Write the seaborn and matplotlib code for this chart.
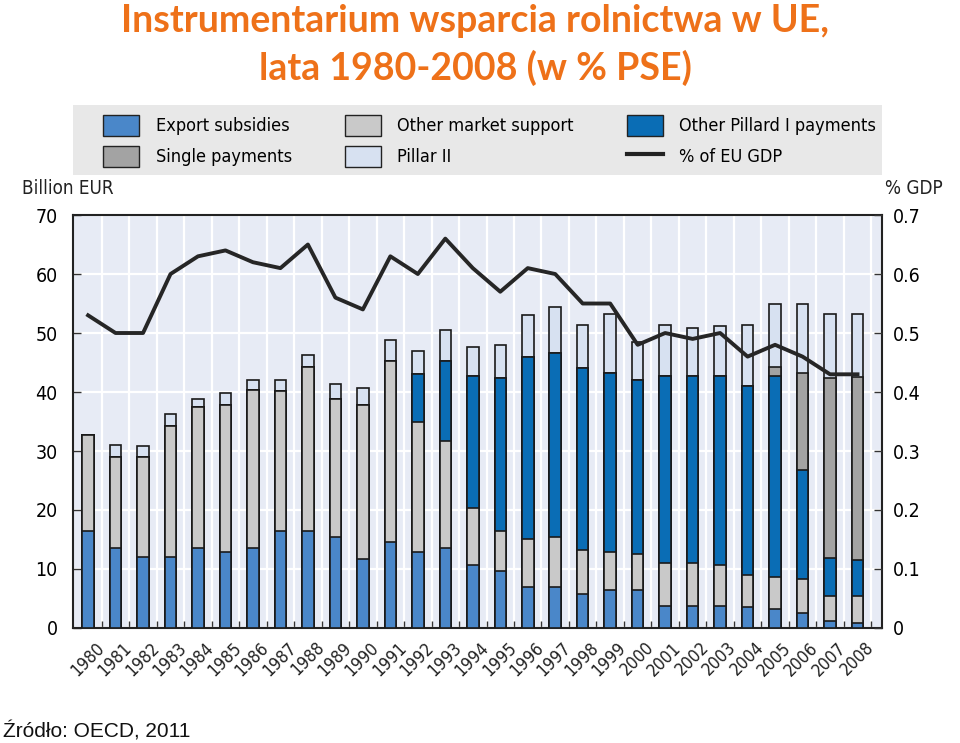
import numpy as np
import pandas as pd
import matplotlib
matplotlib.use("Agg")
import matplotlib.pyplot as plt
from matplotlib.patches import Patch, Rectangle
from matplotlib.lines import Line2D
import seaborn as sns

years = [str(y) for y in range(1980, 2009)]

export_subsidies = [16.4, 13.6, 12.0, 12.0, 13.6, 12.9, 13.6, 16.4, 16.4, 15.5,
                    11.7, 14.5, 12.9, 13.5, 10.6, 9.7, 7.0, 7.0, 5.8, 6.4,
                    6.4, 3.8, 3.8, 3.8, 3.5, 3.2, 2.5, 1.2, 0.8]
other_market = [16.3, 15.4, 17.0, 22.2, 23.9, 24.9, 26.7, 23.8, 27.8, 23.3,
                26.1, 30.7, 22.0, 18.2, 9.7, 6.7, 8.1, 8.4, 7.4, 6.4,
                6.1, 7.2, 7.2, 6.8, 5.5, 5.4, 5.8, 4.2, 4.6]
other_pillar1 = [0, 0, 0, 0, 0, 0, 0, 0, 0, 0,
                 0, 0, 8.1, 13.6, 22.4, 26.0, 30.9, 31.2, 30.8, 30.5,
                 29.5, 31.7, 31.7, 32.1, 32.1, 34.1, 18.5, 6.5, 6.2]
single_payments = [0, 0, 0, 0, 0, 0, 0, 0, 0, 0,
                   0, 0, 0, 0, 0, 0, 0, 0, 0, 0,
                   0, 0, 0, 0, 0, 1.6, 16.5, 30.4, 31.0]
pillar2 = [0, 2.0, 1.8, 2.1, 1.3, 2.0, 1.7, 1.8, 2.1, 2.6,
           2.9, 3.7, 3.9, 5.2, 4.9, 5.5, 7.1, 7.8, 7.4, 9.9,
           6.4, 8.7, 8.1, 8.5, 10.3, 10.7, 11.7, 11.0, 10.7]
gdp_share = [0.53, 0.50, 0.50, 0.60, 0.63, 0.64, 0.62, 0.61, 0.65, 0.56,
             0.54, 0.63, 0.60, 0.66, 0.61, 0.57, 0.61, 0.60, 0.55, 0.55,
             0.48, 0.50, 0.49, 0.50, 0.46, 0.48, 0.46, 0.43, 0.43]

series_names = ["Export subsidies", "Other market support", "Other Pillard I payments",
                "Single payments", "Pillar II"]
series_colors = ["#4a87c9", "#c9c9c9", "#0a6db5", "#a3a3a3", "#d7e1f1"]

df = pd.DataFrame({"year": years,
                   "Export subsidies": export_subsidies,
                   "Other market support": other_market,
                   "Other Pillard I payments": other_pillar1,
                   "Single payments": single_payments,
                   "Pillar II": pillar2})
cum = df[series_names].cumsum(axis=1)

# condensed face for the chart texts
plt.rcParams["font.family"] = ["DejaVu Sans"]
plt.rcParams["font.stretch"] = "condensed"

fig = plt.figure(figsize=(9.6, 7.43), dpi=100)
ax = fig.add_axes([0.076, 0.1548, 0.843, 0.5558])
ax.set_facecolor("#e7ebf5")

# stacked bars: draw cumulative totals from top segment down
for name, color in reversed(list(zip(series_names, series_colors))):
    sns.barplot(x=df["year"], y=cum[name], order=years, color=color, saturation=1,
                width=0.42, edgecolor="#1a1a1a", linewidth=1.2, ax=ax, zorder=3)

ax.set_ylim(0, 70)
ax.set_xlim(-0.55, 28.9)
ax.set_yticks(range(0, 71, 10))
ax.set_xticks(np.arange(len(years)) + 0.5, minor=False)
ax.set_xticklabels([])
for i, y in enumerate(years):
    ax.text(i + 0.25, -1.8, y, rotation=45, ha="right", va="top", fontsize=12.5,
            rotation_mode="anchor", color="#222222")
ax.tick_params(axis="x", direction="in", length=5, width=1, color="#333333")
ax.tick_params(axis="y", direction="in", length=6, width=1, color="#333333",
               labelsize=14, pad=11)
ax.grid(True, color="white", linewidth=1.6, zorder=0)
ax.set_axisbelow(True)
ax.set_xlabel("")
ax.set_ylabel("")
for s in ax.spines.values():
    s.set_color("#222222")
    s.set_linewidth(1.5)

ax2 = ax.twinx()
sns.lineplot(x=np.arange(len(years)), y=gdp_share, ax=ax2, color="#262626",
             linewidth=2.8, zorder=4)
ax2.set_ylim(0, 0.7)
ax2.set_yticks(np.arange(0, 0.71, 0.1))
ax2.set_yticklabels(["0", "0.1", "0.2", "0.3", "0.4", "0.5", "0.6", "0.7"])
ax2.tick_params(axis="y", direction="in", length=6, width=1, color="#333333",
                labelsize=14, pad=8)
ax2.set_ylabel("")
ax2.grid(False)
for s in ax2.spines.values():
    s.set_visible(False)

fig.text(0.023, 0.733, "Billion EUR", fontsize=13.5, ha="left", va="bottom", color="#222222")
fig.text(0.922, 0.733, "% GDP", fontsize=13.5, ha="left", va="bottom", color="#222222")

# legend box
fig.patches.append(Rectangle((0.076, 0.764), 0.843, 0.095, transform=fig.transFigure,
                             facecolor="#e8e8e8", edgecolor="none", zorder=0))
handles = [Patch(facecolor=series_colors[0], edgecolor="#222222", label="Export subsidies"),
           Patch(facecolor=series_colors[3], edgecolor="#222222", label="Single payments"),
           Patch(facecolor=series_colors[1], edgecolor="#222222", label="Other market support"),
           Patch(facecolor=series_colors[4], edgecolor="#222222", label="Pillar II"),
           Patch(facecolor=series_colors[2], edgecolor="#222222", label="Other Pillard I payments"),
           Line2D([0], [0], color="#222222", linewidth=3, label="% of EU GDP")]
fig.legend(handles=handles, ncol=3, loc="lower left", mode="expand",
           bbox_to_anchor=(0.1, 0.766, 0.82, 0.09), frameon=False,
           fontsize=13, handlelength=2.0, handleheight=1.4, handletextpad=0.9,
           labelspacing=0.55, borderaxespad=0)

title_font = ["Lato", "DejaVu Sans"]
fig.text(0.495, 0.972, "Instrumentarium wsparcia rolnictwa w UE,", ha="center", va="center",
         fontsize=27, fontweight="bold", color="#ee7119", family=title_font)
fig.text(0.495, 0.908, "lata 1980-2008 (w % PSE)", ha="center", va="center",
         fontsize=27, fontweight="bold", color="#ee7119", family=title_font)

fig.text(0.003, 0.016, "Źródło: OECD, 2011", ha="left", va="center", fontsize=15,
         color="#111111", family=["Liberation Sans", "DejaVu Sans"], stretch="normal")

fig.savefig("out.png", dpi=100)
